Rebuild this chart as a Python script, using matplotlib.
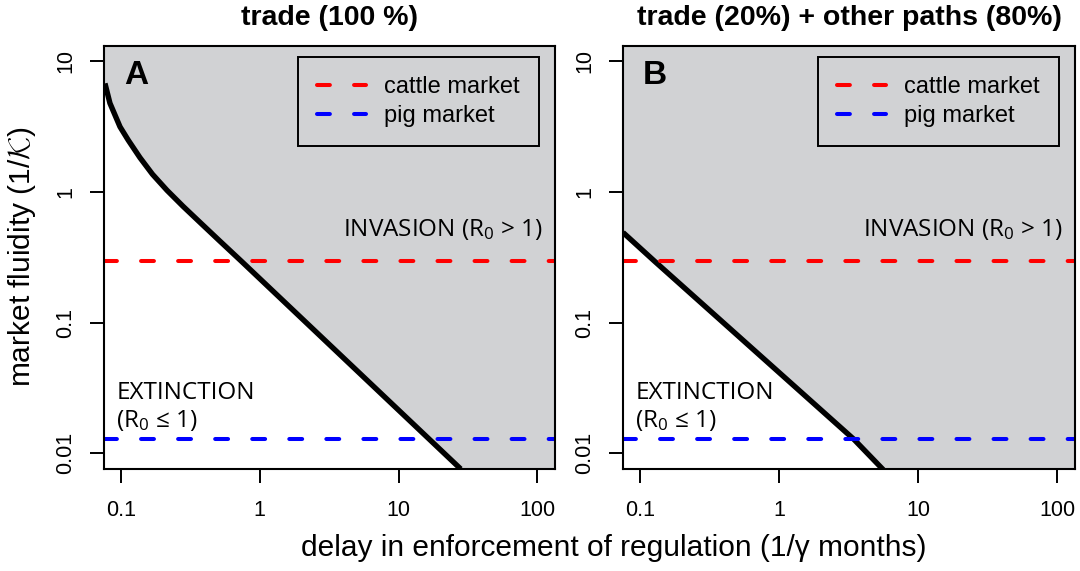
import matplotlib
matplotlib.use("Agg")
import matplotlib.pyplot as plt
import numpy as np

# %% Data
# threshold curve R0 = 1, panel A (trade only)
delay_A = [0.0767, 0.0833, 0.0985, 0.1129, 0.1371, 0.1687, 0.2146, 0.280,
           0.3774, 0.5089, 0.7393, 28.0]
fluid_A = [6.77, 4.78, 3.15, 2.49, 1.83, 1.366, 1.03, 0.777,
           0.5755, 0.4265, 0.2944, 0.0076]
# threshold curve, panel B (trade 20% + other paths 80%)
delay_B = [0.0755, 0.127, 3.45, 5.6]
fluid_B = [0.49, 0.296, 0.0128, 0.0075]

market_names = ["cattle market", "pig market"]
market_fluidity = [0.296, 0.0128]
market_colors = ["#ff0000", "#0000ff"]

titles = ["trade (100 %)", "trade (20%) + other paths (80%)"]
panel_tags = ["A", "B"]
x_ticks = [0.1, 1, 10, 100]
x_ticklabels = ["0.1", "1", "10", "100"]
y_ticks = [0.01, 0.1, 1, 10]
y_ticklabels = ["0.01", "0.1", "1", "10"]

# %% Style
plt.rcParams['font.family'] = ['Liberation Sans', 'DejaVu Sans']
plt.rcParams['mathtext.fontset'] = 'custom'
plt.rcParams['mathtext.rm'] = 'Open Sans'
plt.rcParams['mathtext.it'] = 'Open Sans:italic'
GREY = '#d1d2d4'
XLIM = (0.0755, 133.7)
YLIM = (0.0076, 13.2)

fig = plt.figure(figsize=(10.8, 5.71), dpi=100)
axA = fig.add_axes([104/1080, 1-469/571, 451/1080, 423.5/571])
axB = fig.add_axes([623/1080, 1-469/571, 452/1080, 423.5/571])

curves = [(delay_A, fluid_A), (delay_B, fluid_B)]

for i, ax in enumerate([axA, axB]):
    dx, fy = curves[i]
    ax.set_xscale('log')
    ax.set_yscale('log')
    ax.set_xlim(*XLIM)
    ax.set_ylim(*YLIM)
    ax.set_facecolor(GREY)
    # extinction region below the threshold curve
    ax.fill_between(dx, 1e-4, fy, color='white', lw=0, zorder=1)
    ax.plot(dx, fy, color='black', lw=3.9, solid_capstyle='butt',
            solid_joinstyle='round', zorder=3)
    for name, val, col in zip(market_names, market_fluidity, market_colors):
        ax.axhline(val, color=col, lw=2.9, linestyle=(0, (3.2, 6.0)),
                   dash_capstyle='round', label=name, zorder=4)

    ax.set_xticks(x_ticks)
    ax.set_xticklabels(x_ticklabels)
    ax.set_yticks(y_ticks)
    ax.set_yticklabels(y_ticklabels, rotation=90, va='center')
    ax.minorticks_off()
    ax.tick_params(axis='both', length=10, width=1.4, labelsize=15.5, direction='out')
    ax.tick_params(axis='x', pad=12)
    ax.tick_params(axis='y', pad=10)
    for s in ax.spines.values():
        s.set_linewidth(1.5)
        s.set_zorder(6)

    leg = ax.legend(loc='upper right', bbox_to_anchor=(0.9645, 0.972),
                    borderaxespad=0, fancybox=False, frameon=True,
                    edgecolor='black', facecolor=GREY, framealpha=1,
                    fontsize=17, handlelength=2.05, handletextpad=0.8,
                    borderpad=0.8, labelspacing=0.3)
    leg.get_frame().set_linewidth(1.4)
    leg.set_zorder(7)

    ax.text(0.044, 0.966, panel_tags[i], transform=ax.transAxes,
            fontsize=24, fontweight='bold', va='top', ha='left', zorder=8)
    ax.text(0.5, 1.048, titles[i], transform=ax.transAxes, fontsize=20.5,
            fontweight='bold', ha='center', va='baseline')
    ax.text(0.972, 0.551, r"INVASION (R$_0$ > 1)", transform=ax.transAxes,
            family=['Open Sans', 'DejaVu Sans'], fontsize=17.5, ha='right',
            va='baseline', zorder=5)
    ax.text(0.027, 0.165, "EXTINCTION", transform=ax.transAxes,
            family=['Open Sans', 'DejaVu Sans'], fontsize=17.5, ha='left',
            va='baseline', zorder=5)
    ax.text(0.027, 0.1, "(R$_0$ \u2264 1)", transform=ax.transAxes,
            family=['Open Sans', 'DejaVu Sans'], fontsize=17.5, ha='left',
            va='baseline', zorder=5)

fig.text(614/1080, 1-548/571, "delay in enforcement of regulation (1/\u03b3 months)",
         fontsize=21.5, ha='center', va='center')
fig.text(22/1080, 1-257/571, r"market fluidity (1/$\mathcal{K}$)", fontsize=21.5,
         rotation=90, ha='center', va='center', math_fontfamily='cm')

fig.savefig("out.png", dpi=100)
